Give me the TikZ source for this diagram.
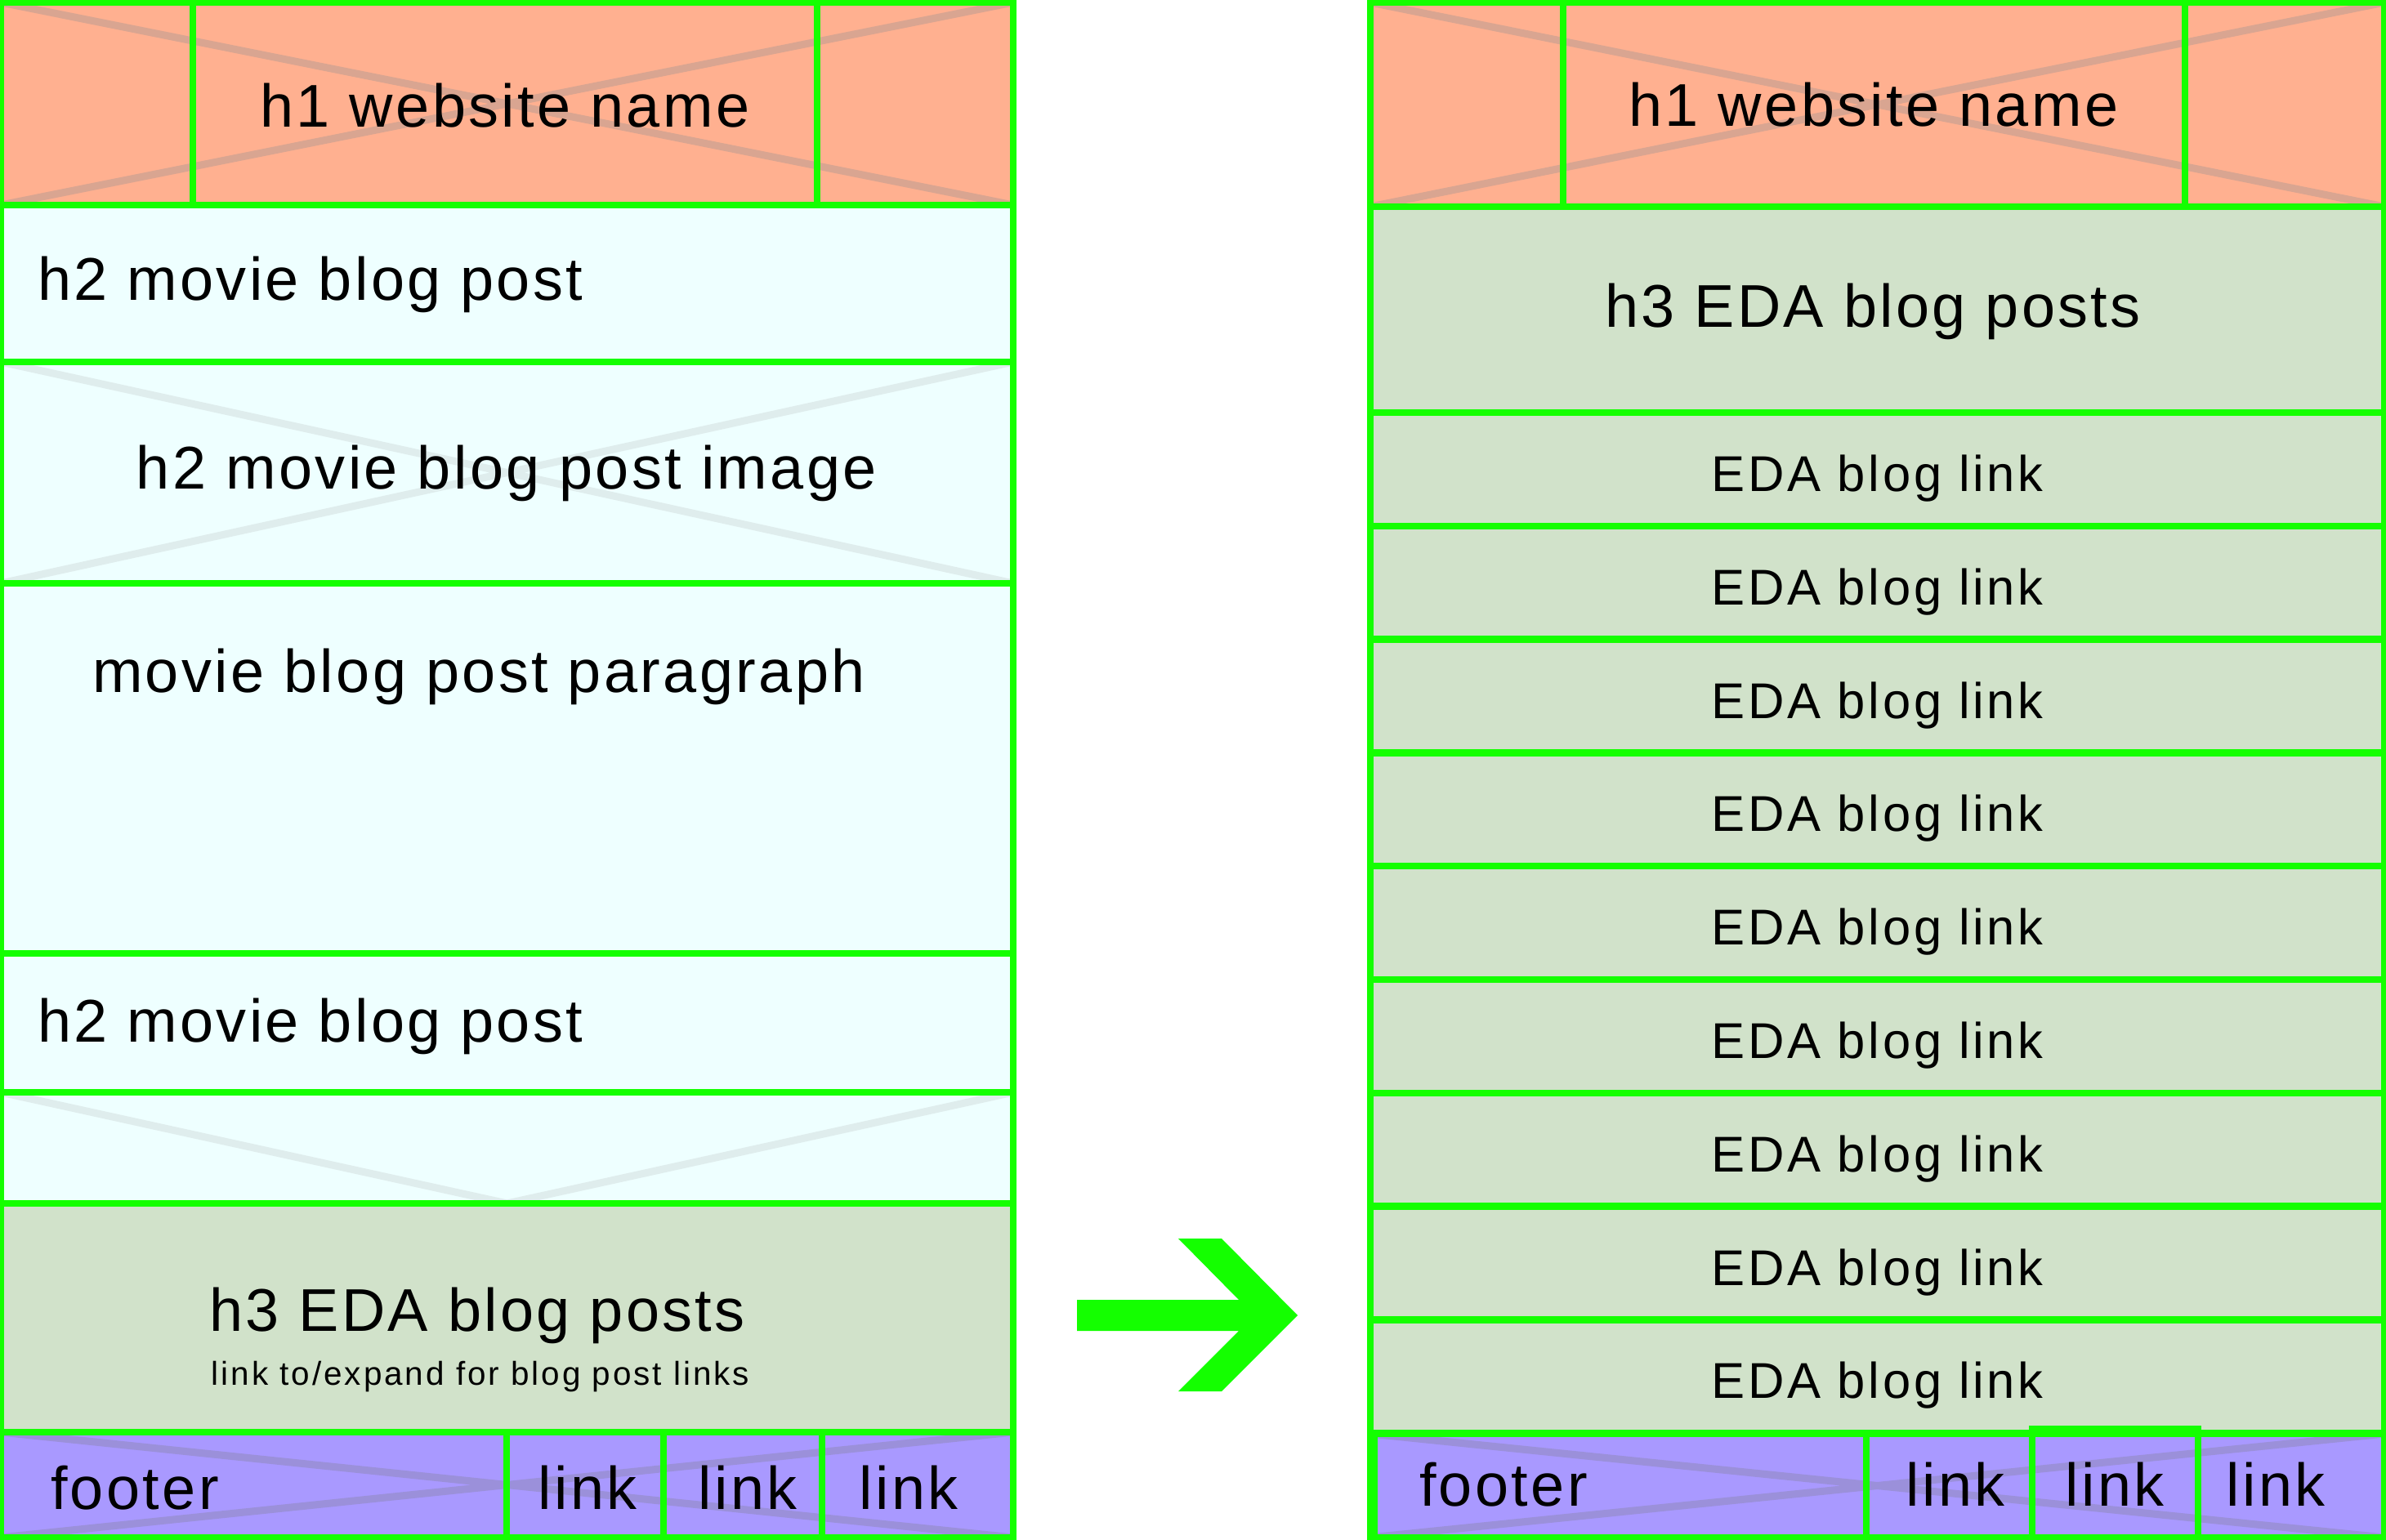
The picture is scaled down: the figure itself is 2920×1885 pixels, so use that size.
\documentclass[tikz,border=0pt]{standalone}
\usepackage{fontspec}
\newfontfamily\labelfont[LetterSpace=4.6]{Liberation Sans}
\newfontfamily\linkfont[LetterSpace=6.0]{Liberation Sans}
\newfontfamily\notefont[LetterSpace=7.3]{Liberation Sans}
\usetikzlibrary{fit}

\definecolor{wire}{HTML}{14FF00}
\definecolor{salmon}{HTML}{FFB090}
\definecolor{salmonx}{HTML}{D9A591}
\definecolor{azure}{HTML}{EEFFFF}
\definecolor{azurex}{HTML}{DFEDED}
\definecolor{sage}{HTML}{D1E2CA}
\definecolor{lilac}{HTML}{A999FF}
\definecolor{lilacx}{HTML}{9B90DA}

\begin{document}
\begin{tikzpicture}[x=0.01cm,y=-0.01cm,
  cell/.style={draw=wire, line width=0.085cm, inner sep=0pt, outer sep=0pt, fit={#1}},
  cross/.style={path picture={
      \draw[line width=0.09cm, #1]
        (path picture bounding box.north west) -- (path picture bounding box.south east)
        (path picture bounding box.south west) -- (path picture bounding box.north east);}},
  vee/.style={path picture={
      \draw[line width=0.09cm, #1]
        (path picture bounding box.north west) -- (path picture bounding box.south)
        -- (path picture bounding box.north east);}},
  big/.style={font=\labelfont\fontsize{21}{25}\selectfont, inner sep=0pt, outer sep=0pt},
  linklabel/.style={font=\linkfont\fontsize{17.5}{21}\selectfont, inner sep=0pt, outer sep=0pt},
  note/.style={font=\notefont\fontsize{11.5}{14}\selectfont, inner sep=0pt, outer sep=0pt},
]
\useasboundingbox[fill=white] (0,0) rectangle (2920,1885);

% ---------- left page: movie blog post ----------
\node[cell={(1,3)(1240,251)}, fill=salmon, cross=salmonx] (Lhead) {};
\node[cell={(1,3)(236,251)}] (LheadL) {};
\node[cell={(236,3)(1000,251)}] (LheadM) {};
\node[cell={(1000,3)(1240,251)}] (LheadR) {};
\node[big, anchor=base] (tLtitle) at (618,156) {h1 website name};

\node[cell={(1,251)(1240,443)}, fill=azure] (Lpost1) {};
\node[big, anchor=base west] (tLpost1) at (46,367) {h2 movie blog post};

\node[cell={(1,443)(1240,714)}, fill=azure, cross=azurex] (Limg1) {};
\node[big, anchor=base] (tLimg1) at (620,598) {h2 movie blog post image};

\node[cell={(1,714)(1240,1167)}, fill=azure] (Lpara) {};
\node[big, anchor=base] (tLpara) at (586,847) {movie blog post paragraph};

\node[cell={(1,1167)(1240,1337)}, fill=azure] (Lpost2) {};
\node[big, anchor=base west] (tLpost2) at (46,1275) {h2 movie blog post};

\node[cell={(1,1337)(1240,1473)}, fill=azure, vee=azurex] (Limg2) {};

\node[cell={(1,1473)(1240,1753)}, fill=sage] (Leda) {};
\node[big, anchor=base] (tLeda) at (584,1629) {h3 EDA blog posts};
\node[note, anchor=base] (tLnote) at (588,1695) {link to/expand for blog post links};

\node[cell={(1,1753)(1240,1882)}, fill=lilac, cross=lilacx] (Lfoot) {};
\node[cell={(1,1753)(620,1882)}] (LfootA) {};
\node[cell={(620,1753)(812,1882)}] (LfootB) {};
\node[cell={(812,1753)(1006,1882)}] (LfootC) {};
\node[cell={(1006,1753)(1240,1882)}] (LfootD) {};
\node[big, anchor=base west] (tLfoot) at (62,1847) {footer};
\node[big, anchor=base] (tLlink1) at (719,1847) {link};
\node[big, anchor=base] (tLlink2) at (915,1847) {link};
\node[big, anchor=base] (tLlink3) at (1112,1847) {link};

% ---------- transition arrow ----------
\fill[wire] (1318,1591) -- (1516,1591) -- (1442,1516) -- (1495,1516) -- (1588,1610)
  -- (1495,1703) -- (1442,1703) -- (1516,1629) -- (1318,1629) -- cycle;

% ---------- right page: expanded EDA blog links ----------
\node[cell={(1677,3)(2918,253)}, fill=salmon, cross=salmonx] (Rhead) {};
\node[cell={(1677,3)(1913,253)}] (RheadL) {};
\node[cell={(1913,3)(2674,253)}] (RheadM) {};
\node[cell={(2674,3)(2918,253)}] (RheadR) {};
\node[big, anchor=base] (tRtitle) at (2293,155) {h1 website name};

\node[cell={(1677,253)(2918,505)}, fill=sage] (Reda) {};
\node[big, anchor=base] (tReda) at (2292,400) {h3 EDA blog posts};

\foreach \k in {1,...,9} {
  \pgfmathsetmacro\ya{505+138.8*(\k-1)}
  \pgfmathsetmacro\yb{505+138.8*\k}
  \node[cell={(1677,\ya)(2918,\yb)}, fill=sage] (Rlink\k) {};
  \node[linklabel, anchor=base, yshift=-0.27cm] (tRlink\k) at (Rlink\k.center) {EDA blog link};
}

\node[cell={(1677,1755)(2918,1882)}, fill=lilac, cross=lilacx] (Rfoot) {};
\node[cell={(1682,1755)(2284,1882)}] (RfootA) {};
\node[cell={(2284,1755)(2487,1882)}] (RfootB) {};
\node[cell={(2487,1749)(2690,1882)}] (RfootC) {};
\node[cell={(2690,1755)(2918,1882)}] (RfootD) {};
\node[big, anchor=base west] (tRfoot) at (1737,1843) {footer};
\node[big, anchor=base] (tRlink1) at (2393,1843) {link};
\node[big, anchor=base] (tRlink2) at (2588,1843) {link};
\node[big, anchor=base] (tRlink3) at (2785,1843) {link};
\end{tikzpicture}
\end{document}
